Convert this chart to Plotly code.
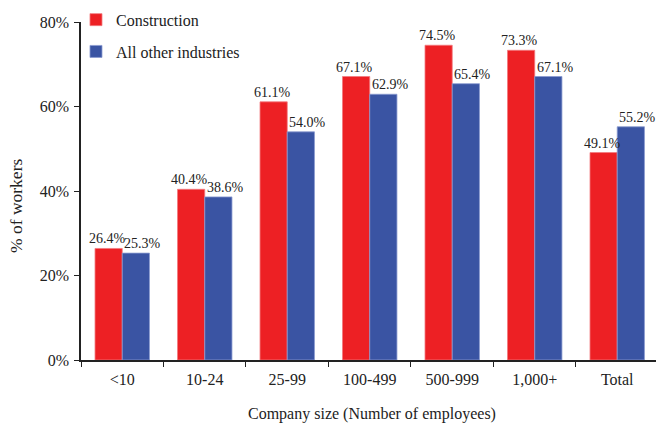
import plotly.graph_objects as go

categories = ["<10", "10-24", "25-99", "100-499", "500-999", "1,000+", "Total"]
construction = [26.4, 40.4, 61.1, 67.1, 74.5, 73.3, 49.1]
all_other = [25.3, 38.6, 54.0, 62.9, 65.4, 67.1, 55.2]
y_ticks = [0, 20, 40, 60, 80]
y_tick_labels = ["0%", "20%", "40%", "60%", "80%"]

FONT = "Liberation Serif, Times New Roman, serif"
RED = "#ED2024"
BLUE = "#3A54A3"
TXT = "#222222"

fig = go.Figure()
fig.add_trace(go.Bar(
    x=categories, y=construction, name="Construction",
    marker=dict(color=RED, line=dict(color="#F27A7D", width=0.8)),
    legendgroup="a",
))
fig.add_trace(go.Bar(
    x=categories, y=all_other, name="All other industries",
    marker=dict(color=BLUE, line=dict(color="#8A9BD0", width=0.8)),
    legendgroup="b",
))

annotations = []
for series, shift in ((construction, -15), (all_other, 20.5)):
    for cat, val in zip(categories, series):
        annotations.append(dict(
            x=cat, y=val, xref="x", yref="y", text=f"{val:.1f}%",
            showarrow=False, xanchor="center", yanchor="bottom",
            xshift=shift, yshift=0,
            font=dict(family=FONT, size=14, color=TXT),
        ))

# axis titles
annotations.append(dict(
    x=(16 - 81) / 575, y=(360 - 206) / 338, xref="paper", yref="paper",
    text="% of workers", textangle=-90, showarrow=False,
    xanchor="center", yanchor="middle",
    font=dict(family=FONT, size=17.5, color=TXT),
))
annotations.append(dict(
    x=(372 - 81) / 575, y=-(414 - 360) / 338, xref="paper", yref="paper",
    text="Company size (Number of employees)", showarrow=False,
    xanchor="center", yanchor="middle",
    font=dict(family=FONT, size=16, color=TXT),
))

fig.update_layout(
    width=656, height=426,
    margin=dict(l=81, r=0, t=22, b=66),
    paper_bgcolor="white", plot_bgcolor="white",
    barmode="group", bargap=0.34, bargroupgap=0,
    font=dict(family=FONT, size=16, color=TXT),
    showlegend=True,
    legend=dict(x=-0.0087, y=1.057, xanchor="left", yanchor="top",
                font=dict(family=FONT, size=16, color=TXT),
                tracegroupgap=8, bgcolor="rgba(0,0,0,0)"),
    annotations=annotations,
    xaxis=dict(
        range=[-0.5, 6.47],
        showline=True, linecolor=TXT, linewidth=1.5,
        ticks="outside", tickson="boundaries", ticklen=5, tickcolor=TXT,
        ticklabelstandoff=4,
        tickfont=dict(family=FONT, size=16, color=TXT),
        showgrid=False, automargin=False,
    ),
    yaxis=dict(
        range=[0, 80], tickvals=y_ticks, ticktext=y_tick_labels,
        showline=True, linecolor=TXT, linewidth=1.5,
        ticks="outside", ticklen=5, tickcolor=TXT,
        ticklabelstandoff=2,
        tickfont=dict(family=FONT, size=16, color=TXT),
        showgrid=False, zeroline=False, automargin=False,
    ),
)

fig.write_html("out.html", config={"displayModeBar": False},
               post_script="document.body.style.margin='0px';")
